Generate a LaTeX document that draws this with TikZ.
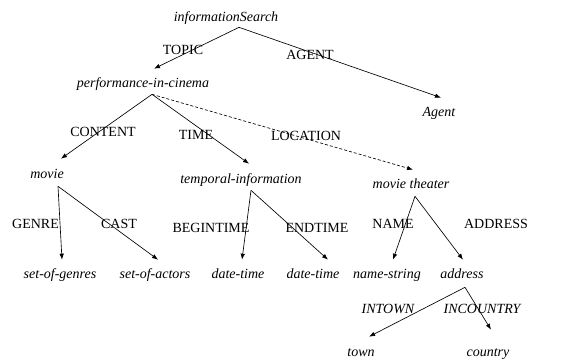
\documentclass[tikz,border=0pt]{standalone}
\usepackage{fontspec}
\setmainfont{Liberation Serif}
\newfontfamily\timesfont{Liberation Serif}
\usepackage{tikz}
\usetikzlibrary{
  positioning,
  arrows.meta,
  arrows
}

\begin{document}
\begin{tikzpicture}[x=1pt,y=1pt,>={Latex[length=6pt,width=4.5pt]},line width=0.65pt,
    font=\timesfont\fontsize{14}{17}\selectfont,
    concept/.style={font=\timesfont\fontsize{14}{17}\selectfont\itshape,anchor=base,inner sep=2pt,text height=10pt,text depth=3pt},
    role/.style={anchor=base,inner sep=1pt},
    irole/.style={role,font=\timesfont\fontsize{14}{17}\selectfont\itshape},
    loc/.style={->,dash pattern=on 3pt off 2pt}]
                \useasboundingbox (0,0) rectangle (569,360);
                \node[concept] (search) at (226,339) {informationSearch};
                \node[concept] (perf) at (143,273) {performance-in-cinema};
                \node[concept] (agent) at (439,244) {Agent};
                \node[concept] (movie) at (47,182) {movie};
                \node[concept] (temporal) at (241,177) {temporal-information};
                \node[concept] (theater) at (411,172) {movie theater};
                \node[concept] (genres) at (60,82) {set-of-genres};
                \node[concept] (actors) at (155,82) {set-of-actors};
                \node[concept] (begindt) at (238,82) {date-time};
                \node[concept] (enddt) at (313,82) {date-time};
                \node[concept] (namestr) at (387,82) {name-string};
                \node[concept] (address) at (462,82) {address};
                \node[concept] (town) at (361,4) {town};
                \node[concept] (country) at (488,4) {country};
                % roles
                \node[role] (topic) at (183,306) {TOPIC};
                \node[role] (agentr) at (310,301) {AGENT};
                \node[role] (content) at (103,224) {CONTENT};
                \node[role] (time) at (196,221) {TIME};
                \node[role] (location) at (306,220) {LOCATION};
                \node[role] (genre) at (35.5,132) {GENRE};
                \node[role] (cast) at (119,132) {CAST};
                \node[role] (begintime) at (211,128) {BEGINTIME};
                \node[role] (endtime) at (317,128) {ENDTIME};
                \node[role] (name) at (393,132) {NAME};
                \node[role] (addr) at (496,132) {ADDRESS};
                \node[irole] (intown) at (388,47) {INTOWN};
                \node[irole] (incountry) at (482,47) {INCOUNTRY};
                % edges
                \draw[->] ([xshift=13pt,yshift=-1pt]search.south) -- ([xshift=11pt,yshift=6pt]perf.north);
                \draw[->] ([xshift=13pt,yshift=-1pt]search.south) -- ([xshift=2pt,yshift=6pt]agent.north);
                \draw[->] ([xshift=9pt,yshift=-2pt]perf.south) -- ([xshift=14pt,yshift=7pt]movie.north);
                \draw[->] ([xshift=9pt,yshift=-2pt]perf.south) -- ([xshift=8pt,yshift=7pt]temporal.north);
                \draw[loc] ([xshift=9pt,yshift=-2pt]perf.south) -- ([xshift=2pt,yshift=6pt]theater.north);
                \draw[->] ([xshift=11pt,yshift=-3pt]movie.south) -- ([xshift=2pt,yshift=6pt]genres.north);
                \draw[->] ([xshift=11pt,yshift=-3pt]movie.south) -- ([xshift=3pt,yshift=6pt]actors.north);
                \draw[->] ([xshift=10pt,yshift=-2pt]temporal.south) -- ([xshift=4pt,yshift=6pt]begindt.north);
                \draw[->] ([xshift=10pt,yshift=-2pt]temporal.south) -- ([xshift=15pt,yshift=6pt]enddt.north);
                \draw[->] ([xshift=4pt,yshift=-3pt]theater.south) -- ([xshift=6pt,yshift=6pt]namestr.north);
                \draw[->] ([xshift=4pt,yshift=-3pt]theater.south) -- ([xshift=1pt,yshift=6pt]address.north);
                \draw[->] ([xshift=3pt,yshift=-4pt]address.south) -- ([xshift=8pt,yshift=7pt]town.north);
                \draw[->] ([xshift=3pt,yshift=-4pt]address.south) -- ([xshift=3pt,yshift=14pt]country.north);
            \end{tikzpicture}
\end{document}
